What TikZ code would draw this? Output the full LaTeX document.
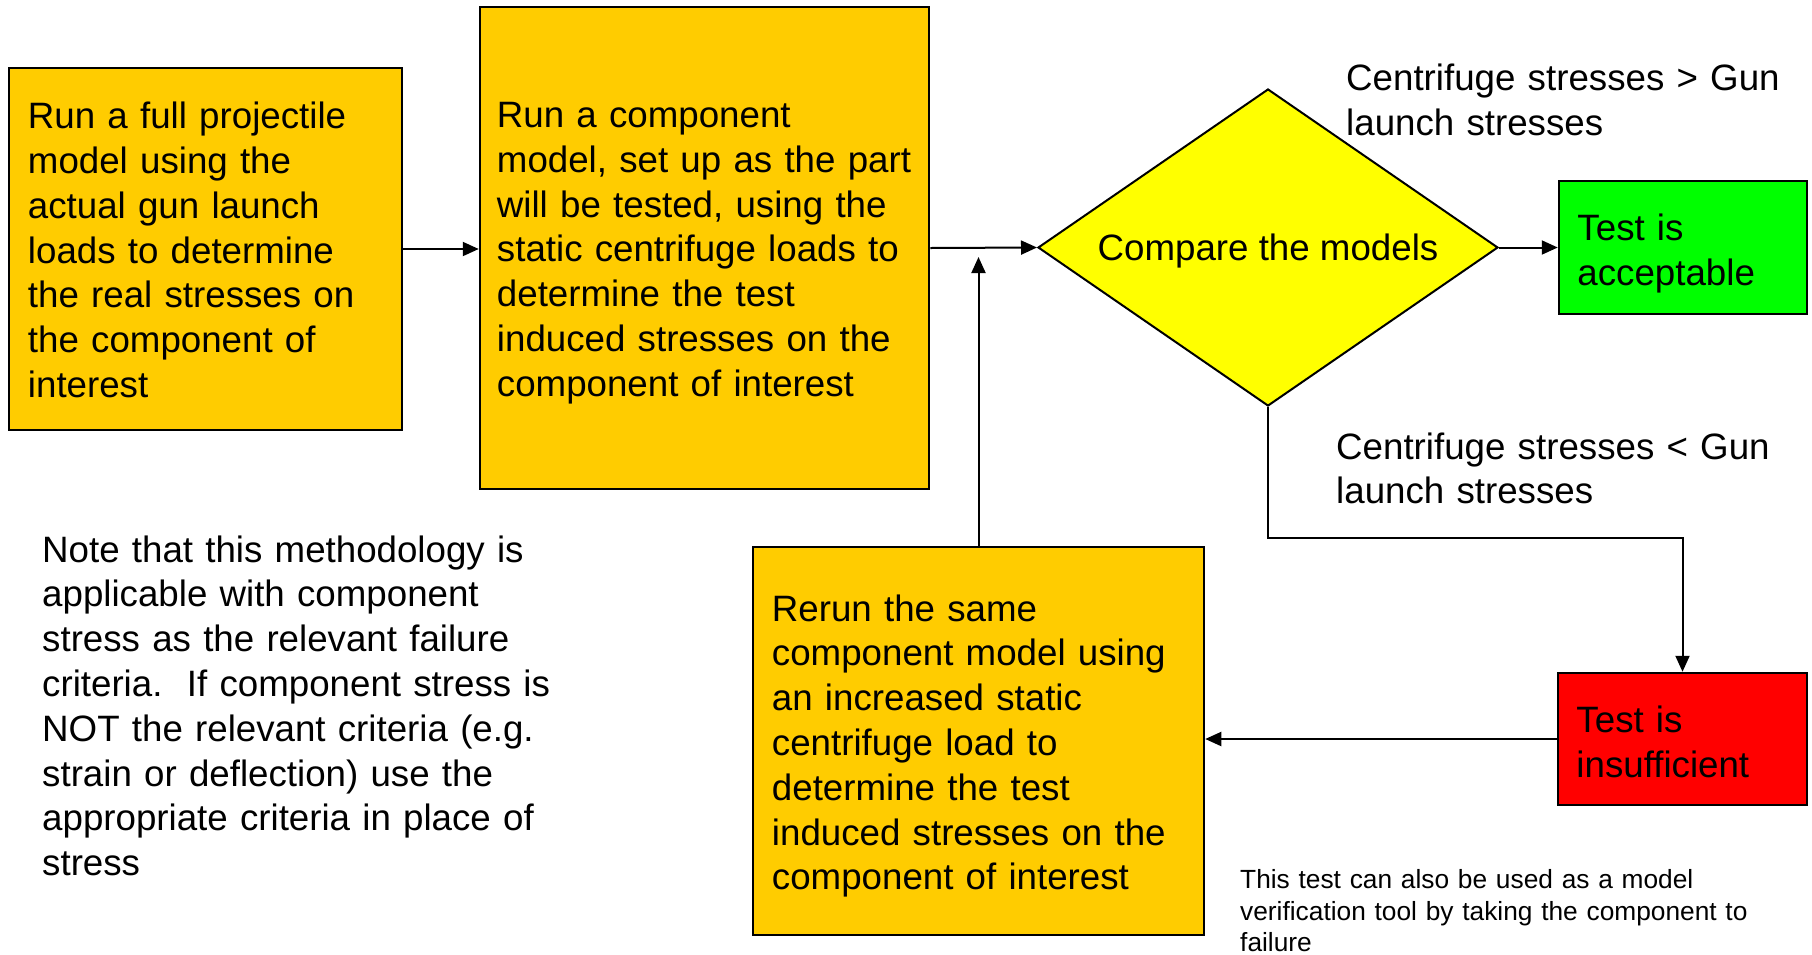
\documentclass[tikz,border=0pt]{standalone}
\usepackage{fontspec}
\setmainfont{Liberation Sans}
\usetikzlibrary{arrows.meta,shapes.geometric}
\definecolor{boxorange}{HTML}{FFCC00}
\definecolor{dmdyellow}{HTML}{FFFF00}
\definecolor{okgreen}{HTML}{00FF00}
\definecolor{badred}{HTML}{FF0000}
\frenchspacing
\begin{document}
\begin{tikzpicture}[x=1pt,y=-1pt,
  bigfont/.style={font=\fontsize{36.7}{44.8}\selectfont},
  smallfont/.style={font=\fontsize{26.3}{31.6}\selectfont},
  procbox/.style={draw=black, line width=2.5pt, fill=boxorange, inner sep=0pt},
  resbox/.style={draw=black, line width=2.5pt, inner sep=0pt},
  boxtext/.style={anchor=west, align=left, inner sep=0pt, bigfont},
  lbl/.style={anchor=base west, align=left, inner sep=0pt},
  arr/.style={draw=black, line width=2pt, -{Triangle[length=16pt,width=14pt]}},
]
\useasboundingbox (0,0) rectangle (1812,954);

\node[procbox, minimum width=393pt, minimum height=362pt] (b1) at (205.5,249) {};
\node[boxtext, text width=370pt] (b1t) at ([xshift=20pt,yshift=-1pt]b1.west)
  {Run a full projectile\\model using the\\actual gun launch\\loads to determine\\the real stresses on\\the component of\\interest};
\node[procbox, minimum width=449pt, minimum height=482pt] (b2) at (704.5,248) {};
\node[boxtext, text width=428pt] (b2t) at ([xshift=18pt,yshift=-5pt]b2.west)
  {Run a component\\model, set up as the part\\will be tested, using the\\static centrifuge loads to\\determine the test\\induced stresses on the\\component of interest};
\node[procbox, minimum width=451pt, minimum height=388pt] (b3) at (978.5,741) {};
\node[boxtext, text width=428pt] (b3t) at ([xshift=20pt,yshift=-5pt]b3.west)
  {Rerun the same\\component model using\\an increased static\\centrifuge load to\\determine the test\\induced stresses on the\\component of interest};
\node[diamond, draw=black, line width=2pt, fill=dmdyellow, shape aspect=1.45, minimum width=460pt, minimum height=317pt, inner sep=0pt, text depth=0pt, bigfont] (cmp) at (1268,247.5)
  {Compare the models};
\node[resbox, fill=okgreen, minimum width=248pt, minimum height=133pt] (green) at (1683,247.5) {};
\node[boxtext, text width=225pt] (greent) at ([xshift=19.5pt,yshift=-6pt]green.west) {Test is\\acceptable};
\node[resbox, fill=badred, minimum width=249pt, minimum height=132pt] (red) at (1682.5,739) {};
\node[boxtext, text width=225pt] (redt) at ([xshift=19.5pt,yshift=-3pt]red.west) {Test is\\insufficient};

\node[lbl, bigfont, text width=460pt] (gtlbl) at (1346,90.7) {Centrifuge stresses > Gun\\launch stresses};
\node[lbl, bigfont, text width=470pt] (ltlbl) at (1336,459) {Centrifuge stresses < Gun\\launch stresses};
\node[lbl, bigfont, text width=520pt] (note) at (42,562)
  {Note that this methodology is\\applicable with component\\stress as the relevant failure\\criteria.\ \ If component stress is\\NOT the relevant criteria (e.g.\\strain or deflection) use the\\appropriate criteria in place of\\stress};
\node[lbl, smallfont, text width=540pt] (verif) at (1240,888.5)
  {This test can also be used as a model\\verification tool by taking the component to\\failure};

\coordinate (turn) at (1268,538);
\coordinate (upend) at (978.5,257);
\draw[arr] (b1.east) -- (b1.east -| b2.west);
\draw[arr] (b2.east) -- (cmp.west);
\draw[arr] (cmp.east) -- (green.west);
\draw[arr] (cmp.south) -- (turn) -| (red.north);
\draw[arr] (red.west) -- (red.west -| b3.east);
\draw[arr] (b3.north) -- (upend);
\end{tikzpicture}
\end{document}
